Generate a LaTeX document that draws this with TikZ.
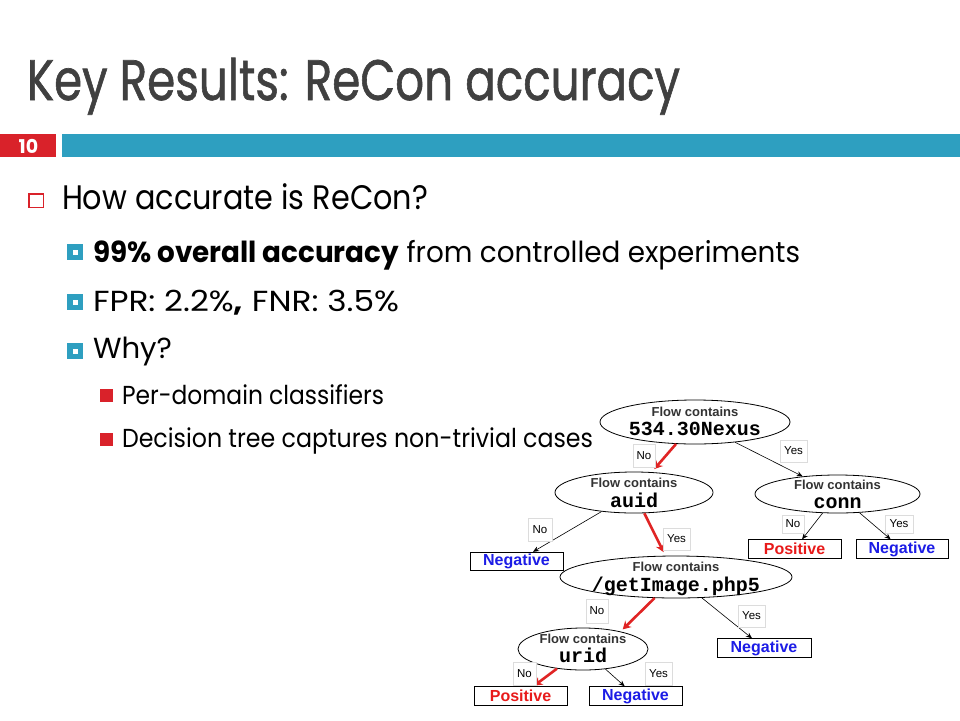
\documentclass[tikz,border=0pt]{standalone}
\usepackage{fontspec}
\setmainfont{Poppins}
\newfontfamily\titlef[FakeBold=1.2]{Poppins}
\newfontfamily\arialf{Liberation Sans}
\newfontfamily\monof{Liberation Mono}
\usetikzlibrary{shapes.geometric,arrows.meta,calc}
\definecolor{slred}{HTML}{D9222A}
\definecolor{slteal}{HTML}{2E9FC0}
\definecolor{titlegray}{HTML}{404040}
\definecolor{arrred}{HTML}{E02424}
\definecolor{negblue}{HTML}{1C1CE6}
\definecolor{posred}{HTML}{E81A1A}
\definecolor{lblgray}{HTML}{DCDCDC}
\definecolor{flowgray}{HTML}{333333}
\newcommand{\fitw}[3]{\resizebox{#1}{\height}{\fontsize{#2}{#2}\selectfont #3}}
\begin{document}
\begin{tikzpicture}[x=1pt,y=-1pt,
  txt/.style={anchor=base west, inner sep=0pt, outer sep=0pt},
  ell/.style={ellipse, draw=black, line width=0.8pt, inner sep=0pt, fill=white},
  ftop/.style={anchor=base, inner sep=0pt, text=flowgray, font=\arialf\bfseries\fontsize{13}{13}\selectfont},
  fmono/.style={anchor=base, inner sep=0pt, font=\monof\bfseries\fontsize{20}{20}\selectfont},
  leaf/.style={rectangle, draw=black, line width=0.9pt, minimum width=93pt, minimum height=18.5pt, inner sep=0pt, fill=white, font=\arialf\bfseries\fontsize{16}{16}\selectfont},
  yn/.style={rectangle, draw=lblgray, line width=0.6pt, fill=white, inner sep=0pt, minimum width=24pt, minimum height=22pt, font=\arialf\fontsize{11.5}{12}\selectfont},
  thin/.style={draw=black, line width=0.6pt, -{Stealth[length=6pt,width=5pt]}},
  hot/.style={draw=arrred, line width=2.6pt, -{Stealth[length=8pt,width=9pt]}}]
\useasboundingbox (0,0) rectangle (960,720);
\fill[white] (0,0) rectangle (960,720);

% title
\node[txt, text=titlegray] (title) at (27,100) {\resizebox{653pt}{\height}{\titlef\fontsize{57}{57}\selectfont Key Results: ReCon accuracy}};

% header bars
\fill[slred] (0,134) rectangle (56,157);
\fill[slteal] (62,134) rectangle (960,157);
\node[inner sep=0pt, text=white, font=\bfseries\fontsize{19}{19}\selectfont] (num) at (28.5,146) {10};

% bullets
\draw[slred, line width=1.5pt] (28.75,193.75) rectangle (43.25,207.25);
\node[txt] (l1) at (62,209) {\fitw{366pt}{34}{How accurate is ReCon?}};

\fill[slteal] (67,244) rectangle (83,260);
\fill[white] (72.5,249.5) rectangle (77.5,254.5);
\node[txt] (l2a) at (93,262) {\fitw{707pt}{29}{\textbf{99\% overall accuracy} from controlled experiments}};

\fill[slteal] (67,294) rectangle (83,310);
\fill[white] (72.5,299.5) rectangle (77.5,304.5);
\node[txt] (l2b) at (93,311) {\fitw{306pt}{29}{FPR: 2.2\%\textbf{,} FNR: 3.5\%}};

\fill[slteal] (67,343) rectangle (83,359);
\fill[white] (72.5,348.5) rectangle (77.5,353.5);
\node[txt] (l2c) at (93,358) {\fitw{79pt}{29}{Why?}};

\fill[slred] (100,389) rectangle (113,402);
\node[txt] (l3a) at (122,404) {\fitw{262pt}{26}{Per-domain classifiers}};
\fill[slred] (100,433) rectangle (113,446);
\node[txt] (l3b) at (122,447) {\fitw{471pt}{26}{Decision tree captures non-trivial cases}};

% tree nodes
\node[ell, minimum width=190pt, minimum height=44pt] (root) at (695,422) {};
\node[ell, minimum width=158pt, minimum height=41pt] (auid) at (634,492.5) {};
\node[ell, minimum width=165pt, minimum height=38pt] (conn) at (837.5,494) {};
\node[ell, minimum width=232pt, minimum height=42pt] (getimg) at (676,577) {};
\node[ell, minimum width=130pt, minimum height=42pt] (urid) at (583,649) {};

\node[ftop] (roott) at ($(root)+(0,-6)$) {Flow contains};
\node[fmono] (rootm) at ($(root)+(0,13.5)$) {534.30Nexus};
\node[ftop] (auidt) at ($(auid)+(0,-5)$) {Flow contains};
\node[fmono] (auidm) at ($(auid)+(0,15)$) {auid};
\node[ftop] (connt) at ($(conn)+(0,-5)$) {Flow contains};
\node[fmono] (connm) at ($(conn)+(0,14)$) {conn};
\node[ftop] (getimgt) at ($(getimg)+(0,-5.5)$) {Flow contains};
\node[fmono] (getimgm) at ($(getimg)+(0,14)$) {/getImage.php5};
\node[ftop] (uridt) at ($(urid)+(0,-6)$) {Flow contains};
\node[fmono] (uridm) at ($(urid)+(0,13)$) {urid};

\node[leaf, text=negblue] (neg1) at (516.5,561.5) {Negative};
\node[leaf, text=posred] (pos1) at (794.5,549) {Positive};
\node[leaf, text=negblue, minimum width=92pt] (neg2) at (902,549) {Negative};
\node[leaf, text=negblue, minimum width=94pt] (neg3) at (764,648) {Negative};
\node[leaf, text=posred] (pos2) at (520.5,696) {Positive};
\node[leaf, text=negblue] (neg4) at (635.5,696) {Negative};

% connectors
\draw[hot, shorten >=4pt] (root) -- (auid);
\draw[thin] (root) -- (conn);
\draw[thin] (auid) -- (neg1);
\draw[hot, shorten >=4pt] (auid) -- (getimg);
\draw[thin] (conn) -- (pos1);
\draw[thin] (conn) -- (neg2);
\draw[hot, shorten >=3pt] (getimg) -- (urid.25);
\draw[thin] (getimg) -- (neg3);
\draw[hot, shorten >=1pt] (urid) -- (pos2);
\draw[thin] (urid) -- (neg4);

% yes / no labels
\node[yn, minimum width=22pt, minimum height=23pt] (no1) at (644,455.5) {No};
\node[yn, minimum width=27pt] (yes1) at (793.5,451) {Yes};
\node[yn, minimum width=24pt, minimum height=23pt] (no2) at (540,529.5) {No};
\node[yn, minimum width=27pt] (yes2) at (676.5,539) {Yes};
\node[yn, minimum width=22pt, minimum height=18pt] (no3) at (793,524) {No};
\node[yn, minimum width=28pt, minimum height=18pt] (yes3) at (899,524) {Yes};
\node[yn, minimum width=22pt, minimum height=24pt] (no4) at (597,611) {No};
\node[yn, minimum width=27pt] (yes4) at (751.5,616) {Yes};
\node[yn, minimum width=23pt, minimum height=23pt] (no5) at (524.5,673.5) {No};
\node[yn, minimum width=27pt, minimum height=23pt] (yes5) at (658.5,673.5) {Yes};
\end{tikzpicture}
\end{document}
